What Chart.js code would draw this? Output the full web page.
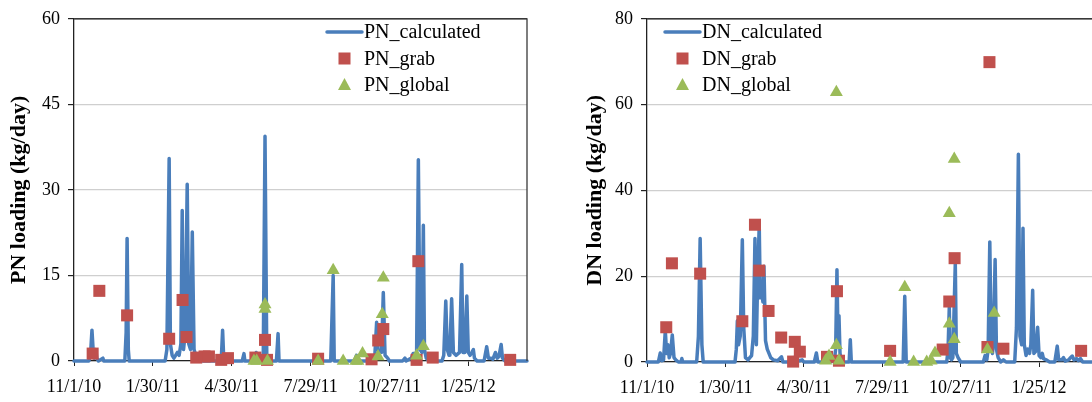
<!DOCTYPE html>
<html>
<head>
<meta charset="utf-8">
<script src="https://cdn.jsdelivr.net/npm/chart.js@4.4.1/dist/chart.umd.min.js"></script>
<style>
  html, body { margin: 0; padding: 0; background: #fff; overflow: hidden; }
  #wrap { position: relative; width: 1092px; height: 402px; overflow: hidden; }
  canvas { position: absolute; top: 0; }
</style>
</head>
<body>
<div id="wrap">
  <canvas id="pnChart" width="546" height="402" style="left:0"></canvas>
  <canvas id="dnChart" width="560" height="402" style="left:546px"></canvas>
</div>
<script>
// x values are days since 11/1/10
const dayTicks = [0, 90, 180, 270, 360, 450];
const dayMax = 517;

// PN panel
const pnCalcDays = [0, 17, 19, 20.5, 22, 23, 25, 26, 28, 33, 34, 58, 59.5, 60.6, 62, 63,
  104, 106, 108.6, 110, 112, 114, 116, 118, 120, 122, 123.5, 125, 127, 129.2, 131, 133, 135, 137, 139, 141, 144,
  168, 169.6, 171, 192, 194, 195, 206, 208, 210, 216, 218, 220, 222, 224, 231, 232.9, 234,
  293, 295.8, 297, 320, 322.4, 324, 343, 345.4, 347, 351, 353, 355, 358, 360,
  375, 377.7, 379, 385, 387, 391, 393, 395, 397, 398.7, 400, 402, 405,
  420, 422, 424.3, 426, 428, 429, 431, 433, 436, 440, 442.5, 444, 446, 448.3, 450, 452, 454, 455.8, 457, 460,
  468, 471, 473, 476, 478, 481, 483, 485, 487.5, 489, 492, 517];
const pnCalcLoad = [0, 0, 1.5, 5.4, 1.5, 0.5, 2, 0.5, 0, 0.5, 0, 0, 5, 21.5, 2, 0,
  0, 2, 35.5, 3, 1, 0.5, 1, 1.5, 1, 3, 26.4, 2, 5, 31, 3, 2, 22.6, 2, 1, 0.5, 0,
  0, 5.4, 0, 0, 1.3, 0, 0, 1.5, 0.5, 0.5, 39.4, 1, 0.5, 0, 0, 4.8, 0,
  0, 15, 0, 0, 1, 0, 0, 6.8, 2, 1.5, 12, 1, 0.5, 0,
  0, 0.5, 0, 0.5, 1.3, 1.3, 35.3, 2, 1.5, 23.8, 2, 0.5, 0,
  0, 1, 10.5, 2, 1, 2, 10.9, 1.5, 1, 1.5, 16.9, 1.5, 1.5, 11.4, 1.5, 1, 1.5, 2, 0.5, 0,
  0, 2.5, 0.5, 0.5, 0.3, 1.5, 0.5, 0.8, 2.9, 0.5, 0, 0];

const pnGrabDays = [21.3, 28.9, 60.6, 108.6, 123.9, 128.4, 139.5, 149, 154, 168, 175.7, 207, 218, 220.3,
  278.6, 339.6, 347.2, 353, 391, 393, 409.4, 497.8];
const pnGrabLoad = [1.3, 12.3, 8.0, 3.9, 10.7, 4.2, 0.6, 0.8, 0.8, 0.2, 0.5, 0.6, 3.7, 0.2,
  0.4, 0.3, 3.6, 5.6, 0.2, 17.5, 0.6, 0.2];

const pnGlobalDays = [205.4, 208.5, 218, 218, 220.8, 278.6, 295.8, 307.2, 321.7, 324, 329.3, 347, 351.8, 353, 391, 398.7];
const pnGlobalLoad = [0, 0, 9.9, 9.1, 0, 0, 15.9, 0, 0, 0, 1.3, 0.8, 8.2, 14.6, 0.9, 2.6];

// DN panel
const dnCalcDays = [0, 13, 15.2, 17, 19, 21, 22.5, 24, 25.5, 27, 29, 31, 33, 36, 39, 40, 41,
  57, 59, 61, 63, 64.5, 101, 102.5, 103.7, 105, 107, 109.4, 111, 113, 116, 118, 120, 122, 123.9, 125.5, 127,
  128.8, 130, 131.5, 133, 134.2, 136, 138, 140, 142, 145, 150, 154.4, 156, 165, 168, 170, 175, 178, 180,
  192, 194.4, 196, 204, 206, 208, 210, 215, 216.5, 218, 219.2, 220.3, 221.5, 223, 225, 232, 233.3, 234.5,
  294, 295.8, 297.5, 344, 345.5, 346.9, 348, 349.5, 351, 353.8, 355, 357, 360,
  386, 388, 390, 391.5, 393.4, 395, 396.5, 397.5, 399.5, 401, 403, 406, 409, 412,
  422, 424, 426.2, 428, 430, 431.5, 433, 435, 437, 439, 440.5, 442.6, 444, 446, 448.3, 450, 452, 453.6, 455, 458, 462,
  468, 470.8, 472.5, 476, 478, 480, 484, 486, 488, 490, 493, 495, 497.5, 500, 517];
const dnCalcLoad = [0, 0, 2.1, 0.3, 0.5, 7.3, 2, 4, 1, 2, 6.3, 1, 0.5, 0, 0, 0.8, 0,
  0, 6, 28.8, 4, 0, 0, 3, 9.6, 4, 6, 28.5, 8, 1, 0.5, 1, 1.5, 6, 28.8, 4, 20,
  31.7, 15, 18, 14, 22.3, 5, 3, 2, 1, 0.5, 0.3, 1.2, 0, 0, 1, 0.5, 0.3, 0.5, 0,
  0, 2.1, 0, 0, 0.5, 1, 0, 0.3, 3, 21.5, 5, 10.8, 2, 0.5, 0, 0, 5.2, 0,
  0, 15.3, 0, 0, 3, 12.7, 1, 0.5, 1, 23.0, 2, 1, 0,
  0, 1.5, 0.5, 3, 28.0, 4, 2, 5, 23.9, 3, 1, 0, 0.5, 0,
  0, 8, 48.4, 6, 4, 31.2, 4, 1.5, 3, 2, 4, 16.7, 2, 2.5, 8.1, 1.5, 1, 2, 0.8, 0.5, 0,
  0, 3.7, 0.5, 0.5, 1, 0.2, 0.5, 1, 1.4, 0.5, 0.8, 0.3, 0.8, 0, 0];

const dnGrabDays = [22.1, 28.6, 61, 109.4, 123.9, 128.8, 139.5, 154, 167.7, 169.6, 175.4, 206.6, 218, 220.3,
  279, 339.3, 346.9, 353, 390.7, 393, 409, 498.2];
const dnGrabLoad = [8.1, 23.0, 20.6, 9.5, 32.0, 21.3, 11.9, 5.7, 0.1, 4.7, 2.4, 1.2, 16.5, 0.3,
  2.6, 2.9, 14.1, 24.2, 3.5, 69.9, 3.1, 2.6];

const dnGlobalDays = [205, 208.9, 217.3, 217.3, 220.3, 279, 295.8, 306, 321, 326, 330.5, 346.9, 346.9, 352.6, 352.6, 390.7, 398.4];
const dnGlobalLoad = [0.3, 1.4, 3.9, 62.9, 0.3, 0, 17.4, 0, 0, 0.3, 2.1, 34.7, 8.9, 47.3, 5.3, 2.9, 11.4];

const serif = '"Liberation Serif", "Times New Roman", serif';
const blue = '#4a7ebb', red = '#c0504d', green = '#9bbb59';

const toXY = (xs, ys) => xs.map((x, i) => ({ x: x, y: ys[i] }));

function dayLabel(v) {
    const d = new Date(2010, 10, 1 + v);
    return (d.getMonth() + 1) + '/' + d.getDate() + '/' + String(d.getFullYear()).slice(2);
}

// frame on top and right of plot area
const framePlugin = {
    id: 'frame',
    afterDatasetsDraw(chart) {
        const a = chart.chartArea, ctx = chart.ctx;
        ctx.save();
        ctx.strokeStyle = '#3a3a3a';
        ctx.lineWidth = 1.3;
        ctx.beginPath();
        ctx.moveTo(a.left, a.top);
        ctx.lineTo(a.right, a.top);
        ctx.lineTo(a.right, a.bottom);
        ctx.stroke();
        ctx.restore();
    }
};

// legend drawn inside the plot
const boxLegend = {
    id: 'boxLegend',
    afterDraw(chart, args, opts) {
        const ctx = chart.ctx;
        ctx.save();
        ctx.font = '20px ' + serif;
        ctx.textBaseline = 'middle';
        ctx.fillStyle = '#000';
        chart.data.datasets.forEach((ds, i) => {
            const y = opts.y + i * opts.row;
            const cx = opts.x + 17.5;
            if (ds.showLine) {
                ctx.strokeStyle = ds.borderColor;
                ctx.lineWidth = 3.5;
                ctx.lineCap = 'round';
                ctx.beginPath();
                ctx.moveTo(opts.x, y);
                ctx.lineTo(opts.x + 35, y);
                ctx.stroke();
            } else if (ds.pointStyle === 'rect') {
                ctx.fillStyle = ds.backgroundColor;
                ctx.fillRect(cx - 6, y - 6, 12, 12);
            } else {
                ctx.fillStyle = ds.backgroundColor;
                ctx.beginPath();
                ctx.moveTo(cx, y - 7);
                ctx.lineTo(cx + 6.5, y + 5);
                ctx.lineTo(cx - 6.5, y + 5);
                ctx.closePath();
                ctx.fill();
            }
            ctx.fillStyle = '#000';
            ctx.fillText(ds.label, opts.x + 37, y + 1);
        });
        ctx.restore();
    }
};

function makeChart(id, p) {
    return new Chart(document.getElementById(id), {
        type: 'scatter',
        data: {
            datasets: [
                { label: p.prefix + '_calculated', data: toXY(p.calcDays, p.calcLoad), showLine: true,
                  borderColor: blue, borderWidth: 3.5, borderJoinStyle: 'round', borderCapStyle: 'round',
                  pointRadius: 0, tension: 0, order: 3, clip: false },
                { label: p.prefix + '_grab', data: toXY(p.grabDays, p.grabLoad), pointStyle: 'rect',
                  backgroundColor: red, borderColor: red, borderWidth: 0, pointRadius: 8.5, order: 2, clip: false },
                { label: p.prefix + '_global', data: toXY(p.globalDays, p.globalLoad), pointStyle: 'triangle',
                  backgroundColor: green, borderColor: green, borderWidth: 0, pointRadius: 7.5, order: 1, clip: false }
            ]
        },
        options: {
            responsive: false,
            animation: false,
            devicePixelRatio: 1,
            layout: { padding: { top: p.top, right: p.right, left: 0, bottom: 0 } },
            plugins: {
                legend: { display: false },
                tooltip: { enabled: false },
                boxLegend: { x: p.legendX, y: 32, row: 26.5 }
            },
            scales: {
                x: {
                    type: 'linear', min: 0, max: dayMax,
                    afterBuildTicks: s => { s.ticks = dayTicks.map(v => ({ value: v })); },
                    afterFit: s => { s.height = p.xHeight; },
                    grid: { drawOnChartArea: false, tickLength: 5, tickColor: '#222' },
                    border: { color: '#222', width: 1.3 },
                    ticks: { callback: v => dayLabel(v), color: '#000', maxRotation: 0, autoSkip: false,
                             padding: 10, font: { family: serif, size: 18 } }
                },
                y: {
                    min: 0, max: p.yMax,
                    afterFit: s => { s.width = p.yWidth; },
                    grid: { color: c => (c.tick && c.tick.value === p.yMax) ? '#3a3a3a' : '#cfcfcf',
                            lineWidth: 1.2, tickLength: 6, tickColor: '#222' },
                    border: { color: '#222', width: 1.3 },
                    ticks: { stepSize: p.yStep, color: '#000', padding: 8, font: { family: serif, size: 18 } },
                    title: { display: true, text: p.prefix + ' loading (kg/day)', color: '#000',
                             padding: { top: p.titlePad, bottom: 0 },
                             font: { family: serif, size: 22, weight: 'bold' } }
                }
            }
        },
        plugins: [framePlugin, boxLegend]
    });
}

makeChart('pnChart', {
    prefix: 'PN', calcDays: pnCalcDays, calcLoad: pnCalcLoad, grabDays: pnGrabDays, grabLoad: pnGrabLoad,
    globalDays: pnGlobalDays, globalLoad: pnGlobalLoad,
    yMax: 60, yStep: 15, top: 14, right: 19, xHeight: 41, yWidth: 74, titlePad: 6, legendX: 327
});
makeChart('dnChart', {
    prefix: 'DN', calcDays: dnCalcDays, calcLoad: dnCalcLoad, grabDays: dnGrabDays, grabLoad: dnGrabLoad,
    globalDays: dnGlobalDays, globalLoad: dnGlobalLoad,
    yMax: 80, yStep: 20, top: 13, right: 7, xHeight: 40, yWidth: 101, titlePad: 36, legendX: 119
});
</script>
</body>
</html>
